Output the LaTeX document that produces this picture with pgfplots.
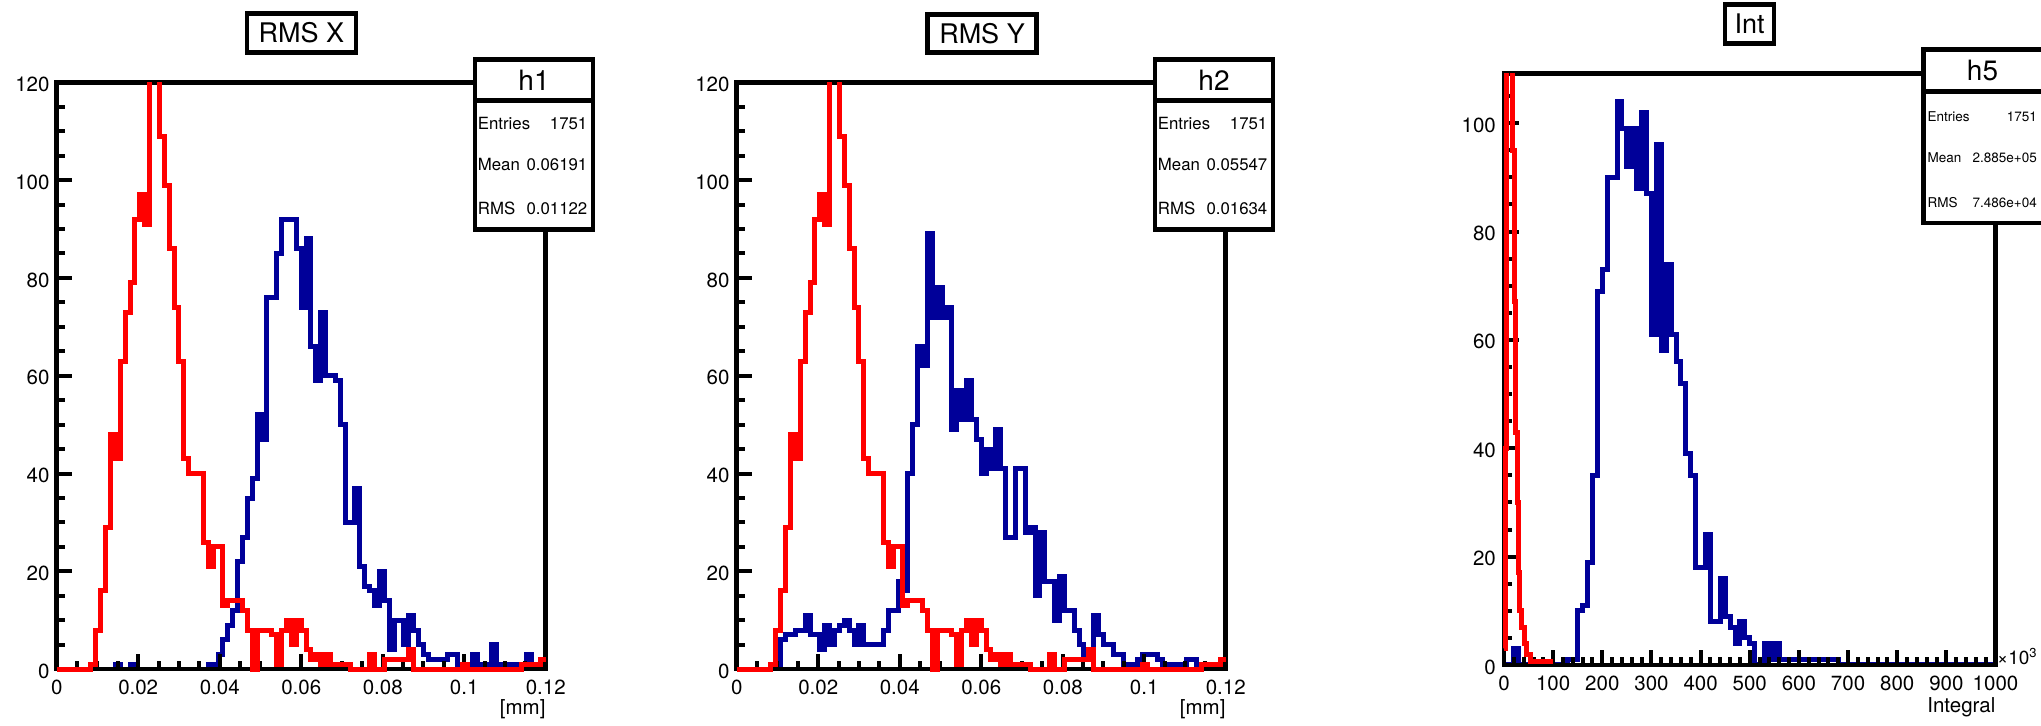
\documentclass[border=0pt]{standalone}
\usepackage{fontspec}
\setmainfont{TeX Gyre Heros}
\usepackage{pgfplots}
\usepackage{pgfplotstable}
\pgfplotsset{compat=1.18}
\definecolor{hred}{RGB}{255,0,0}
\definecolor{hblue}{RGB}{0,0,153}

% bin index i (bin width 0.0012 mm in RMS plots, 10x10^3 in Int plot)
\pgfplotstableread{
i red b1 b2 b3
0 0 0 0 0
1 0 0 0 0
2 0 0 0 3
3 0 0 0 0
4 0 0 0 0
5 0 0 0 0
6 0 0 0 0
7 1 0 0 0
8 8 0 0 0
9 16 0 6 0
10 29 0 7 0
11 48 0 7 0
12 43 1 8 0
13 63 0 8 1
14 73 0 11 1
15 79 1 7 10
16 92 0 7 11
17 97 0 4 19
18 91 0 9 35
19 130 0 5 69
20 128 0 8 73
21 109 0 9 90
22 99 0 10 90
23 86 0 8 104
24 74 0 5 99
25 63 0 9 92
26 43 0 5 99
27 40 0 5 88
28 40 0 5 102
29 40 0 5 87
30 26 0 8 61
31 21 1 12 96
32 25 1 12 58
33 25 3 18 74
34 13 6 16 61
35 14 9 40 56
36 14 12 50 52
37 14 22 66 39
38 12 27 62 35
39 8 35 89 18
40 0 39 72 18
41 8 52 78 24
42 8 47 72 8
43 8 76 74 8
44 7 76 49 16
45 1 85 57 9
46 8 92 51 7
47 10 92 59 4
48 5 92 51 8
49 10 86 47 5
50 8 74 40 4
51 4 88 45 0
52 2 66 41 0
53 3 59 49 4
54 1 73 41 1
55 3 60 27 4
56 1 60 27 1
57 1 59 41 1
58 1 50 41 1
59 1 30 28 1
60 0 30 29 1
61 0 37 15 1
62 0 21 28 1
63 0 17 18 1
64 3 16 18 1
65 0 13 10 1
66 0 20 19 1
67 2 14 12 1
68 2 4 12 0
69 2 10 8 0
70 2 10 5 0
71 2 5 3 0
72 4 11 3 0
73 0 8 11 0
74 0 5 7 0
75 0 3 5 0
76 0 2 5 0
77 0 2 3 0
78 0 2 3 0
79 0 2 1 0
80 0 3 1 0
81 0 3 1 0
82 0 1 2 0
83 1 1 3 0
84 0 1 3 0
85 0 3 3 0
86 0 1 2 0
87 0 1 1 0
88 0 1 1 0
89 0 5 1 0
90 0 1 0 0
91 0 1 1 0
92 0 1 2 0
93 0 1 2 0
94 0 1 1 0
95 1 1 1 0
96 1 3 1 0
97 1 1 0 0
98 1 1 1 0
99 2 1 1 0
100 2 1 1 0
}\hist

% red histogram of the Int plot (x in units of 10^3)
\pgfplotstableread{
x y
0 3
3 40
5 135
18 95
21 67
24 43
27 30
29 17
31 10
35 7
41 4
46 2
53 0.6
100 0.6
}\redint

\pgfplotsset{
  rootframe/.style={
    scale only axis, anchor=south west, axis on top,
    axis line style={line width=4.5pt, black},
    tick align=inside, xtick pos=lower, ytick pos=lower,
    major tick length=15pt, minor tick length=8pt,
    tick style={line width=4pt, black},
    ticklabel style={font=\fontsize{20.5}{24}\selectfont},
    /pgf/number format/assume math mode=true,
    xticklabel style={anchor=base, inner sep=0pt, yshift=-25pt},
    yticklabel style={anchor=east, inner sep=0pt, xshift=-7pt, yshift=-2pt},
    xlabel style={at={(rel axis cs:1,0)}, anchor=base east, inner sep=0pt,
      font=\fontsize{20.5}{24}\selectfont},
  },
  overlayaxis/.style={scale only axis, anchor=south west, hide axis, clip=true},
  hist/.style={const plot, line width=5pt, mark=none},
  rmsaxis/.style={rootframe, width=489pt, height=586.9pt,
    xmin=0, xmax=0.12, ymin=0, ymax=120,
    xtick={0,0.02,0.04,0.06,0.08,0.1,0.12},
    xticklabels={0,0.02,0.04,0.06,0.08,0.1,0.12},
    minor x tick num=3,
    ytick={0,20,40,60,80,100,120},
    yticklabels={0,20,40,60,80,100,120},
    minor y tick num=3,
    xlabel={[mm]}, xlabel style={yshift=-45.4pt}},
  rmsover/.style={overlayaxis, width=497pt, height=590.9pt,
    xmin=-0.0009816, xmax=0.1209816, ymin=-0.81785, ymax=120},
}

\begin{document}
\begin{tikzpicture}
\useasboundingbox (0pt,0pt) rectangle (2041pt,725pt);

% ---------- Panel 1 : RMS X ----------
\begin{axis}[rmsaxis, at={(56.7pt,55.8pt)}]
\addplot[hist, hblue] table[x expr=\thisrow{i}*0.0012, y=b1] {\hist};
\end{axis}
\begin{axis}[rmsover, at={(52.7pt,51.8pt)}]
\addplot[hist, hred] table[x expr=\thisrow{i}*0.0012, y=red] {\hist};
\end{axis}

% ---------- Panel 2 : RMS Y ----------
\begin{axis}[rmsaxis, at={(736.7pt,55.8pt)}]
\addplot[hist, hblue] table[x expr=\thisrow{i}*0.0012, y=b2] {\hist};
\end{axis}
\begin{axis}[rmsover, at={(732.7pt,51.8pt)}]
\addplot[hist, hred] table[x expr=\thisrow{i}*0.0012, y=red] {\hist};
\end{axis}

% ---------- Panel 3 : Int ----------
\begin{axis}[rootframe, at={(1504pt,60pt)}, width=491.5pt, height=591.7pt,
    xmin=0, xmax=1000, ymin=0, ymax=109.2,
    xtick={0,100,200,300,400,500,600,700,800,900,1000},
    xticklabels={0,100,200,300,400,500,600,700,800,900,1000},
    minor x tick num=4,
    ytick={0,20,40,60,80,100},
    yticklabels={0,20,40,60,80,100},
    minor ytick={5,10,15,25,30,35,45,50,55,65,70,75,85,90,95,105},
    yticklabel style={xshift=-1pt},
    xlabel={Integral}, xlabel style={yshift=-47.4pt}]
\addplot[hist, hblue] table[x expr=\thisrow{i}*10, y=b3] {\hist};
\end{axis}
\begin{axis}[overlayaxis, at={(1500pt,56pt)}, width=499.5pt, height=595.7pt,
    xmin=-8.1384, xmax=1008.1384, ymin=-0.73821, ymax=109.2]
\addplot[hist, hred] table[x=x, y=y] {\redint};
\end{axis}

\node[anchor=base west, inner sep=0pt, font=\fontsize{19}{22}\selectfont]
  at (1997pt,60pt) {×10\raisebox{7pt}{\fontsize{13}{14}\selectfont 3}};

% ---------- Titles ----------
\node[draw, line width=4.5pt, fill=white, minimum width=109pt, minimum height=39pt,
  inner sep=0pt, font=\fontsize{27}{30}\selectfont] at (301.5pt,692pt) {RMS X};
\node[draw, line width=4.5pt, fill=white, minimum width=109pt, minimum height=38pt,
  inner sep=0pt, font=\fontsize{27}{30}\selectfont] at (982pt,691.5pt) {RMS Y};
\node[draw, line width=4.5pt, fill=white, minimum width=49pt, minimum height=39pt,
  inner sep=0pt, font=\fontsize{27}{30}\selectfont] at (1749.5pt,701.2pt) {Int};

% ---------- Stats boxes ----------
% h1
\draw[line width=4.5pt, fill=white] (475pt,665.7pt) rectangle (593pt,495.3pt);
\draw[line width=4.5pt] (475pt,624.3pt) -- (593pt,624.3pt);
\node[inner sep=0pt, font=\fontsize{28}{30}\selectfont] at (534pt,645pt) {h1};
\begin{scope}[every node/.style={inner sep=0pt, font=\fontsize{16.8}{18}\selectfont}]
\node[anchor=base west] at (477.7pt,595.7pt) {Entries};
\node[anchor=base east] at (587.5pt,595.7pt) {1751};
\node[anchor=base west] at (477.7pt,554.3pt) {Mean};
\node[anchor=base east] at (587.5pt,554.3pt) {0.06191};
\node[anchor=base west] at (477.7pt,510pt) {RMS};
\node[anchor=base east] at (587.5pt,510pt) {0.01122};
\end{scope}
% h2
\draw[line width=4.5pt, fill=white] (1155pt,665.7pt) rectangle (1273pt,495.3pt);
\draw[line width=4.5pt] (1155pt,624.3pt) -- (1273pt,624.3pt);
\node[inner sep=0pt, font=\fontsize{28}{30}\selectfont] at (1214pt,645pt) {h2};
\begin{scope}[every node/.style={inner sep=0pt, font=\fontsize{16.8}{18}\selectfont}]
\node[anchor=base west] at (1157.7pt,595.7pt) {Entries};
\node[anchor=base east] at (1267.5pt,595.7pt) {1751};
\node[anchor=base west] at (1157.7pt,554.3pt) {Mean};
\node[anchor=base east] at (1267.5pt,554.3pt) {0.05547};
\node[anchor=base west] at (1157.7pt,510pt) {RMS};
\node[anchor=base east] at (1267.5pt,510pt) {0.01634};
\end{scope}
% h5
\draw[line width=4.5pt, fill=white] (1923.5pt,675.7pt) rectangle (2080pt,502pt);
\draw[line width=4.5pt] (1923.5pt,633.3pt) -- (2080pt,633.3pt);
\node[inner sep=0pt, font=\fontsize{28}{30}\selectfont] at (1982.5pt,654.5pt) {h5};
\begin{scope}[every node/.style={inner sep=0pt, font=\fontsize{13.5}{15}\selectfont}]
\node[anchor=base west] at (1927.5pt,603.5pt) {Entries};
\node[anchor=base east] at (2037pt,603.5pt) {1751};
\node[anchor=base west] at (1927.5pt,562.3pt) {Mean};
\node[anchor=base east] at (2037pt,562.3pt) {2.885e+05};
\node[anchor=base west] at (1927.5pt,517.5pt) {RMS};
\node[anchor=base east] at (2037pt,517.5pt) {7.486e+04};
\end{scope}
\end{tikzpicture}
\end{document}
